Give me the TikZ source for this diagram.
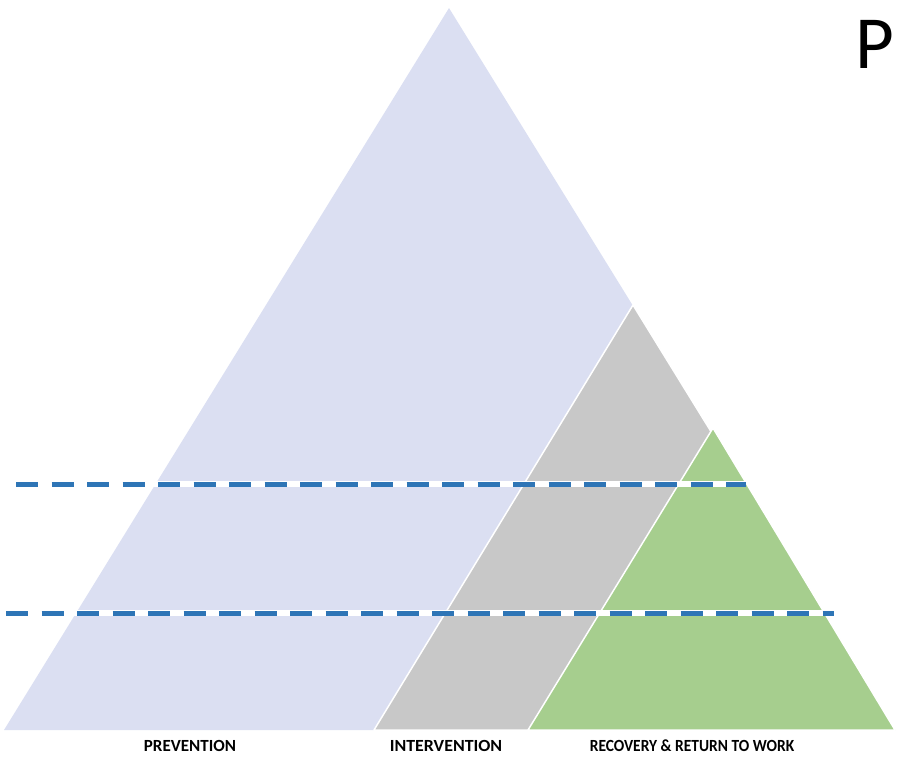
\documentclass[tikz,border=0pt]{standalone}
\usepackage{fontspec}
\setmainfont{Carlito}
\begin{document}
\definecolor{prevfill}{RGB}{219,223,242}
\definecolor{intfill}{RGB}{200,200,200}
\definecolor{recfill}{RGB}{166,206,142}
\definecolor{dashblue}{RGB}{46,117,182}
\begin{tikzpicture}[x=1pt,y=-1pt,
  tier/.style={draw=white,line width=1.5pt,line join=round},
  levelback/.style={draw=white,line width=5.5pt},
  levelline/.style={draw=dashblue,line width=5pt,dash pattern=on 22pt off 13.5pt},
  caption/.style={font=\bfseries\fontsize{17}{19}\selectfont,anchor=center}]
\useasboundingbox (0,0) rectangle (898,756);
% three nested tiers sharing the same base line
\coordinate (apexA) at (449,8);
\coordinate (apexB) at (633,305);
\coordinate (apexC) at (713,428);
\coordinate (baseL) at (4,730);
\coordinate (baseR) at (895,730);
\coordinate (baseB) at (374,730);
\coordinate (baseC) at (528,730);
\fill[prevfill] (apexA) -- (baseR) -- (baseL) -- cycle;
\filldraw[tier,fill=intfill] (apexB) -- (baseR) -- (baseB) -- cycle;
\filldraw[tier,fill=recfill] (apexC) -- (baseR) -- (baseC) -- cycle;
% dashed level markers
\coordinate (upA) at (16,484);
\coordinate (upB) at (746,484);
\coordinate (loA) at (6,613);
\coordinate (loB) at (834,613);
\draw[levelback] (upA) -- (upB);
\draw[levelline] (upA) -- (upB);
\draw[levelback] (loA) -- (loB);
\draw[levelline] (loA) -- (loB);
% captions
\node[caption] (prev) at (190,746) {PREVENTION};
\node[caption,xscale=1.05,transform shape] (inter) at (446,746) {INTERVENTION};
\node[caption,xscale=0.91,transform shape] (recov) at (692,746) {RECOVERY \& RETURN TO WORK};
\node[font=\fontsize{75}{80}\selectfont,anchor=base west,inner sep=0pt] (ptitle) at (855,68) {P};
\end{tikzpicture}
\end{document}
